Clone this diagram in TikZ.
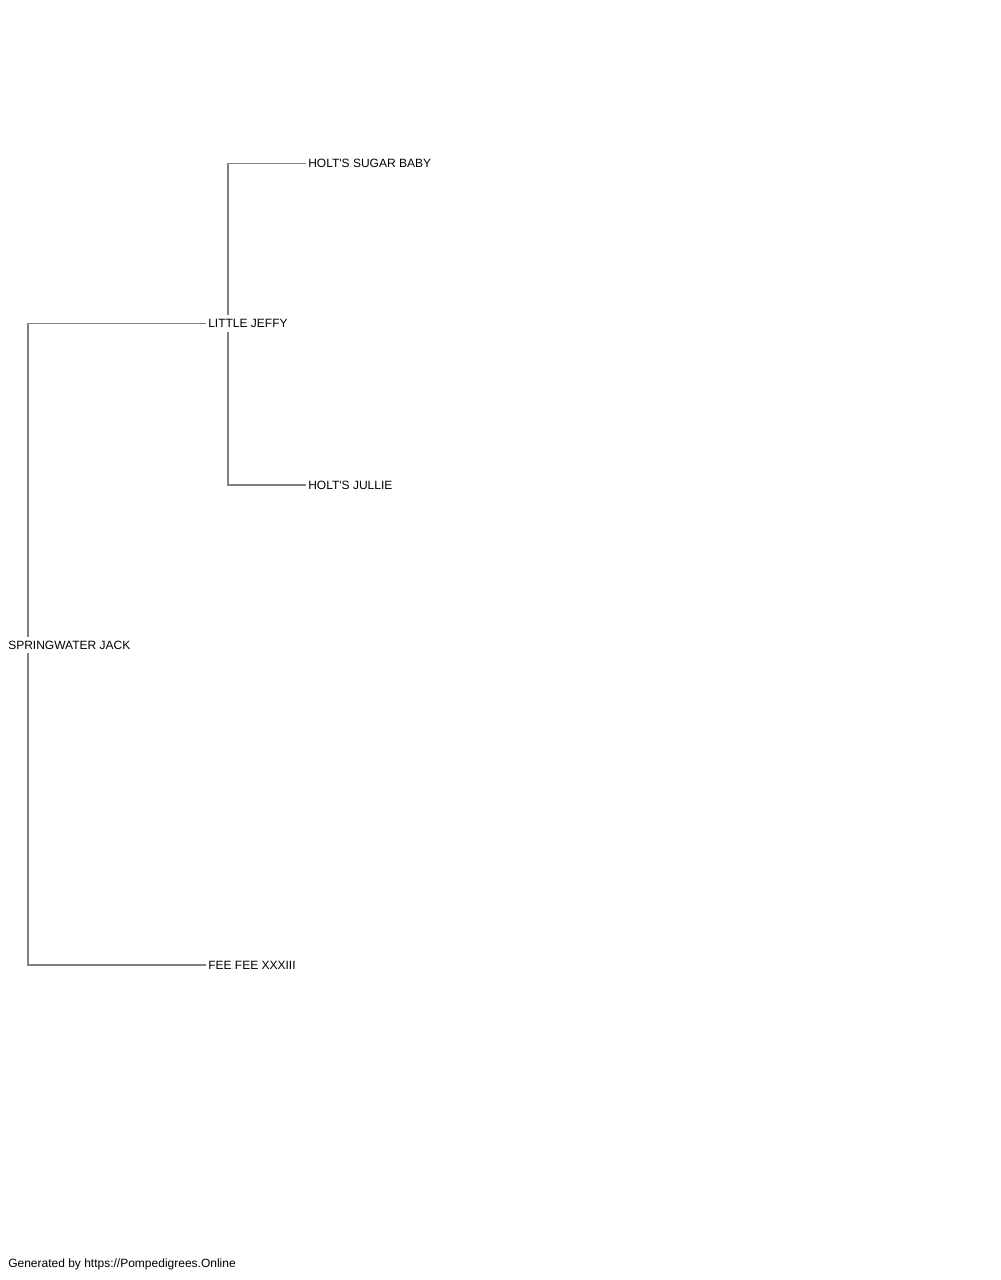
\documentclass[tikz,border=0pt]{standalone}
\usepackage{fontspec}
\setmainfont{Liberation Sans}
\usetikzlibrary{calc}
\begin{document}
\begin{tikzpicture}[x=0.75pt,y=-0.75pt,
  dog/.style={anchor=west,inner xsep=1.5pt,inner ysep=2.8pt,font=\fontsize{9pt}{10pt}\selectfont,text=black},
  link/.style={draw=black!50,line width=1pt}]
\fill[white] (0,0) rectangle (1000,1280);
\useasboundingbox (0,0) rectangle (1000,1280);
\node[dog] (root) at (6,645) {SPRINGWATER JACK};
\node[dog] (jeffy) at (206,323.5) {LITTLE JEFFY};
\node[dog] (fee) at (206,965) {FEE FEE XXXIII};
\node[dog] (sugar) at (306,163.5) {HOLT\textquotesingle S SUGAR BABY};
\node[dog] (jullie) at (306,485) {HOLT\textquotesingle S JULLIE};
\node[dog] (footer) at (6,1264.5) {Generated by https://Pompedigrees.Online};
\draw[link] ($(root.north west)+(22,0)$) |- (jeffy.west);
\draw[link] ($(root.south west)+(22,0)$) |- (fee.west);
\draw[link] ($(jeffy.north west)+(22,0)$) |- (sugar.west);
\draw[link] ($(jeffy.south west)+(22,0)$) |- (jullie.west);
\end{tikzpicture}
\end{document}
